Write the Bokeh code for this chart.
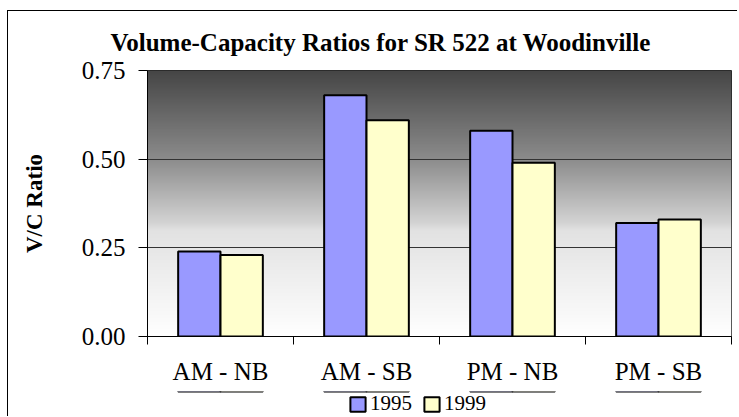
import numpy as np
from bokeh.plotting import figure
from bokeh.layouts import column
from bokeh.models import (Range1d, FixedTicker, NumeralTickFormatter, Legend, LegendItem,
                          ColumnDataSource)
from bokeh.embed import file_html
from bokeh.resources import INLINE

# ---- data ----
title_text = "Volume-Capacity Ratios for SR 522 at Woodinville"
categories = ["AM - NB", "AM - SB", "PM - NB", "PM - SB"]
years = ["1995", "1999"]
v1995 = [0.24, 0.68, 0.58, 0.32]
v1999 = [0.23, 0.61, 0.49, 0.33]
y_ticks = [0.0, 0.25, 0.50, 0.75]
y_label = "V/C Ratio"
colors = ["#9999FF", "#FFFFCC"]

FONT = "Liberation Serif"
n = len(categories)
centers = [i + 0.5 for i in range(n)]
bounds = [float(i) for i in range(n + 1)]
bar_w = 0.29

p = figure(frame_width=584, frame_height=266, x_range=Range1d(0, n), y_range=Range1d(0, y_ticks[-1]),
           output_backend="svg", toolbar_location=None,
           min_border_left=139, min_border_right=6, min_border_top=55, min_border_bottom=55,
           background_fill_color="white", border_fill_color="white")

# gradient background of the plot area
rows = 300
t = np.linspace(0, 1, rows)  # 0 bottom -> 1 top
stops_t = [0.0, 0.40, 0.42, 0.667, 1.0]
stops_v = [255, 226, 214, 140, 70]
lev = np.interp(t, stops_t, stops_v).astype(np.uint32)
img = np.empty((rows, 2), dtype=np.uint32)
col = (255 << 24) | (lev << 16) | (lev << 8) | lev
img[:, 0] = col
img[:, 1] = col
r_img = p.image_rgba(image=[img], x=0, y=0, dw=n, dh=y_ticks[-1])
r_img.level = "image"

src = ColumnDataSource(dict(x1=[c - bar_w / 2 for c in centers], x2=[c + bar_w / 2 for c in centers],
                            a=v1995, b=v1999))
r1 = p.vbar(x="x1", top="a", width=bar_w, bottom=0, source=src, fill_color=colors[0],
            line_color="black", line_width=2)
r2 = p.vbar(x="x2", top="b", width=bar_w, bottom=0, source=src, fill_color=colors[1],
            line_color="black", line_width=2)

# title
p.title.text = title_text
p.title.text_font = FONT
p.title.text_font_size = "25px"
p.title.text_font_style = "bold"
p.title.text_color = "black"
p.title.align = "left"
p.title.offset = -37
p.title.standoff = 30

# x axis
xa = p.xaxis[0]
xa.ticker = FixedTicker(ticks=centers, minor_ticks=bounds)
xa.major_label_overrides = {c: lab for c, lab in zip(centers, categories)}
xa.major_tick_line_color = None
xa.major_tick_out = 0
xa.minor_tick_line_color = "black"
xa.minor_tick_out = 8
xa.minor_tick_in = 0
xa.major_label_text_font = FONT
xa.major_label_text_font_size = "25px"
xa.major_label_text_color = "black"
xa.major_label_standoff = 13
xa.axis_line_color = "black"

# y axis
ya = p.yaxis[0]
ya.ticker = FixedTicker(ticks=y_ticks)
ya.formatter = NumeralTickFormatter(format="0.00")
ya.major_tick_out = 9
ya.major_tick_in = 0
ya.minor_tick_line_color = None
ya.major_label_text_font = FONT
ya.major_label_text_font_size = "25px"
ya.major_label_text_color = "black"
ya.major_label_standoff = 13
ya.axis_label = y_label
ya.axis_label_text_font = FONT
ya.axis_label_text_font_size = "23px"
ya.axis_label_text_font_style = "bold"
ya.axis_label_text_color = "black"
ya.axis_label_standoff = 32
ya.axis_line_color = "black"

p.xgrid.visible = False
p.ygrid.ticker = FixedTicker(ticks=y_ticks)
p.ygrid.grid_line_color = "#333333"
p.ygrid.grid_line_width = 1
p.outline_line_color = "#222222"

# legend strip below the chart (its bars lie far outside its visible range; only the legend shows)
p2 = figure(width=729, height=25, x_range=Range1d(0, n), y_range=Range1d(-11, -10),
            output_backend="svg", toolbar_location=None,
            x_axis_location=None, y_axis_location=None,
            min_border_left=0, min_border_right=0, min_border_top=0, min_border_bottom=0,
            background_fill_color="white", border_fill_color="white")
p2.grid.visible = False
p2.outline_line_color = None
k1 = p2.vbar(x="x1", top="a", width=bar_w, bottom=0, source=src, fill_color=colors[0],
             line_color="black", line_width=2)
k2 = p2.vbar(x="x2", top="b", width=bar_w, bottom=0, source=src, fill_color=colors[1],
             line_color="black", line_width=2)
legend = Legend(items=[LegendItem(label=years[0], renderers=[k1]),
                       LegendItem(label=years[1], renderers=[k2])],
                orientation="horizontal", location=(201, 0),
                label_text_font=FONT, label_text_font_size="21px", label_text_color="black",
                glyph_width=19, glyph_height=18, label_standoff=3, spacing=10,
                padding=0, margin=0, border_line_color=None, background_fill_alpha=0)
p2.add_layout(legend)

layout = column(p, p2, spacing=0)
layout.margin = (10, 0, 0, 7)
layout.styles = {"border-left": "1px solid black", "border-top": "1px solid black"}

open("out.html", "w").write(file_html(layout, INLINE))
